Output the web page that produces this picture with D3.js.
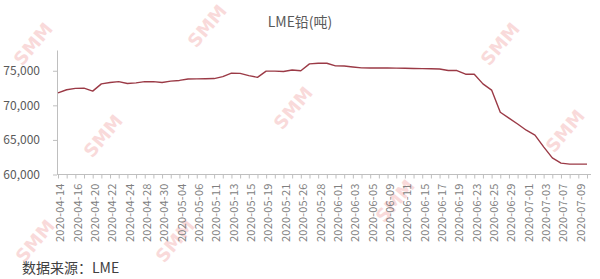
<!DOCTYPE html>
<html>
<head>
<meta charset="utf-8">
<title>LME铅(吨)</title>
<script src="https://d3js.org/d3.v7.min.js"></script>
<style>
  body { margin: 0; background: #fff; }
  svg { display: block; }
</style>
</head>
<body>
<div id="chart"></div>
<script>
// trading days (LME) shown on the category axis
var dates = [
  "2020-04-14","2020-04-15","2020-04-16","2020-04-17","2020-04-20","2020-04-21","2020-04-22","2020-04-23","2020-04-24",
  "2020-04-27","2020-04-28","2020-04-29","2020-04-30","2020-05-01","2020-05-04","2020-05-05","2020-05-06","2020-05-07",
  "2020-05-11","2020-05-12","2020-05-13","2020-05-14","2020-05-15","2020-05-18","2020-05-19","2020-05-20","2020-05-21",
  "2020-05-22","2020-05-26","2020-05-27","2020-05-28","2020-05-29","2020-06-01","2020-06-02","2020-06-03","2020-06-04",
  "2020-06-05","2020-06-08","2020-06-09","2020-06-10","2020-06-11","2020-06-12","2020-06-15","2020-06-16","2020-06-17",
  "2020-06-18","2020-06-19","2020-06-22","2020-06-23","2020-06-24","2020-06-25","2020-06-26","2020-06-29","2020-06-30",
  "2020-07-01","2020-07-02","2020-07-03","2020-07-06","2020-07-07","2020-07-08","2020-07-09","2020-07-10"
]

// LME lead stocks, tonnes
var stocks = [
  71800, 72250, 72450, 72480, 72050, 73100, 73300, 73430, 73150,
  73250, 73430, 73420, 73300, 73500, 73600, 73800, 73830, 73850,
  73870, 74150, 74650, 74620, 74300, 74050, 74950, 74950, 74900,
  75100, 75000, 76000, 76080, 76080, 75700, 75680, 75550, 75420,
  75400, 75400, 75400, 75380, 75360, 75320, 75300, 75280, 75260,
  75030, 75030, 74500, 74490, 73100, 72200, 69000, 68150, 67300,
  66400, 65700, 64000, 62400, 61650, 61500, 61500, 61500
]

var yTicks = [60000, 65000, 70000, 75000]
var yDomain = [60000, 78000]

var title = "LME铅(吨)"
var source = "数据来源：LME"

var width = 600, height = 279
var cjk = "'Noto Sans CJK SC', 'Noto Sans', sans-serif"

var svg = d3.select("#chart")
  .append("svg")
  .attr("width", width)
  .attr("height", height)

// faint SMM watermarks
var marks = [[38, 48], [212, 30], [108, 140], [298, 112], [505, 48], [570, 135], [400, 205], [40, 245], [180, 245]]
svg.append("g").selectAll("text")
  .data(marks)
  .enter().append("text")
  .attr("transform", function (d) { return "translate(" + d[0] + "," + d[1] + ") rotate(-50)" })
  .attr("text-anchor", "middle")
  .attr("font-family", "'DejaVu Sans', sans-serif")
  .attr("font-weight", "bold")
  .attr("font-size", 18)
  .attr("fill", "#f9dada")
  .text("SMM")

var x = d3.scalePoint()
  .domain(dates)
  .range([58, 587])

var y = d3.scaleLinear()
  .domain(yDomain)
  .range([174.5, 50])

// y axis
var yAxis = svg.append("g")
  .attr("transform", "translate(57,0)")
  .call(d3.axisLeft(y).tickValues(yTicks).tickSize(4).tickSizeOuter(0).tickFormat(d3.format(",")))
yAxis.select(".domain").attr("stroke", "#bfbfbf")
yAxis.selectAll(".tick line").attr("stroke", "#bfbfbf")
yAxis.selectAll(".tick text")
  .attr("x", -17)
  .attr("fill", "#595959")
  .attr("font-family", cjk)
  .attr("font-size", 12)

// x axis
var xAxis = svg.append("g")
  .attr("transform", "translate(0,174.5)")
  .call(d3.axisBottom(x).tickSize(4).tickSizeOuter(0)
    .tickFormat(function (d, i) { return i % 2 === 0 ? d : "" }))
xAxis.select(".domain").remove()
xAxis.append("line")
  .attr("x1", x.range()[0] - 1)
  .attr("x2", x.range()[1] + 4)
  .attr("stroke", "#bfbfbf")
xAxis.selectAll(".tick line").attr("stroke", "#bfbfbf")
xAxis.selectAll(".tick text")
  .attr("transform", "rotate(-90)")
  .attr("text-anchor", "end")
  .attr("x", -9)
  .attr("y", 2)
  .attr("dy", "0.35em")
  .attr("fill", "#808080")
  .attr("font-family", cjk)
  .attr("font-size", 11)
  .attr("letter-spacing", 0.2)

// line
var line = d3.line()
  .x(function (d, i) { return x(dates[i]) })
  .y(function (d) { return y(d) })

svg.append("path")
  .datum(stocks)
  .attr("fill", "none")
  .attr("stroke", "#9b3a46")
  .attr("stroke-width", 1.4)
  .attr("stroke-linejoin", "round")
  .attr("d", line)

// title
svg.append("text")
  .attr("x", 300)
  .attr("y", 27)
  .attr("text-anchor", "middle")
  .attr("fill", "#595959")
  .attr("font-family", cjk)
  .attr("font-size", 14)
  .text(title)

// source note
svg.append("text")
  .attr("x", 22)
  .attr("y", 273)
  .attr("fill", "#404040")
  .attr("font-family", cjk)
  .attr("font-size", 14)
  .text(source)
</script>
</body>
</html>
